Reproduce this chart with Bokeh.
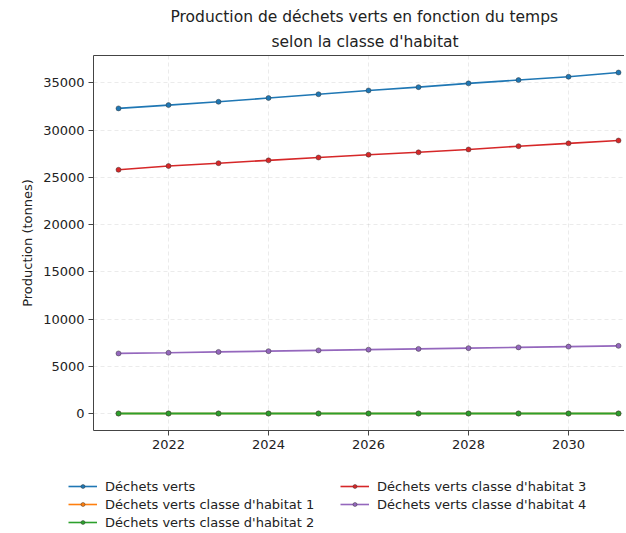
from bokeh.plotting import figure
from bokeh.layouts import column, row
from bokeh.models import (Legend, LegendItem, FixedTicker, LinearAxis, Title,
                          Range1d, NumeralTickFormatter)
from bokeh.embed import file_html
from bokeh.resources import INLINE

years = [2021, 2022, 2023, 2024, 2025, 2026, 2027, 2028, 2029, 2030, 2031]
dechets_verts = [32300, 32650, 33000, 33400, 33800, 34200, 34550, 34950, 35300, 35650, 36100]
classe_1 = [0, 0, 0, 0, 0, 0, 0, 0, 0, 0, 0]
classe_2 = [0, 0, 0, 0, 0, 0, 0, 0, 0, 0, 0]
classe_3 = [25800, 26200, 26500, 26800, 27100, 27400, 27650, 27950, 28300, 28600, 28900]
classe_4 = [6360, 6430, 6520, 6600, 6680, 6760, 6840, 6920, 7000, 7080, 7160]

series_names = ["Déchets verts", "Déchets verts classe d'habitat 1",
                "Déchets verts classe d'habitat 2", "Déchets verts classe d'habitat 3",
                "Déchets verts classe d'habitat 4"]
series_values = [dechets_verts, classe_1, classe_2, classe_3, classe_4]
series_colors = ["#1f77b4", "#ff7f0e", "#2ca02c", "#d62728", "#9467bd"]
series_widths = [1.6, 1.4, 1.9, 1.6, 1.6]

x_ticks = [2022, 2024, 2026, 2028, 2030]
y_ticks = [0, 5000, 10000, 15000, 20000, 25000, 30000, 35000]

title_line1 = "Production de déchets verts en fonction du temps"
title_line2 = "selon la classe d'habitat"
y_label = "Production (tonnes)"

FONT = "DejaVu Sans"
W = 624

p = figure(width=W, height=455, output_backend="svg", toolbar_location=None,
           x_range=Range1d(2020.5, 2031.12), y_range=Range1d(-1800, 37900),
           min_border_left=93, min_border_right=0, min_border_top=55,
           min_border_bottom=25)
p.outline_line_color = None
p.background_fill_color = "white"
p.border_fill_color = "white"

xaxis = p.below[0]
yaxis = p.left[0]

# Top spine
top_axis = LinearAxis(ticker=FixedTicker(ticks=[]), major_tick_out=0, major_tick_in=0,
                      minor_tick_out=0, minor_tick_in=0, major_label_standoff=0,
                      major_label_text_font_size="0px",
                      axis_line_color="#444444", axis_line_width=1)
p.add_layout(top_axis, "above")

# Titles (added inner first)
p.add_layout(Title(text=title_line2, align="left", text_font=FONT,
                   text_font_size="15.5px", text_font_style="normal",
                   text_color="#222222", standoff=9, offset=178), "above")
p.add_layout(Title(text=title_line1, align="left", text_font=FONT,
                   text_font_size="15.5px", text_font_style="normal",
                   text_color="#222222", standoff=1, offset=77), "above")

for ax in [xaxis, yaxis]:
    ax.axis_line_color = "#444444"
    ax.major_tick_line_color = "#444444"
    ax.major_tick_out = 5
    ax.major_tick_in = 0
    ax.minor_tick_line_color = None
    ax.major_label_text_font = FONT
    ax.major_label_text_font_size = "13px"
    ax.major_label_text_color = "#222222"
    ax.major_label_standoff = 4

xaxis.ticker = FixedTicker(ticks=x_ticks)
yaxis.ticker = FixedTicker(ticks=y_ticks)
yaxis.formatter = NumeralTickFormatter(format="0")
yaxis.axis_label = y_label
yaxis.axis_label_text_font = FONT
yaxis.axis_label_text_font_size = "13px"
yaxis.axis_label_text_font_style = "normal"
yaxis.axis_label_text_color = "#222222"
yaxis.axis_label_standoff = 5

p.grid.grid_line_color = "#b0b0b0"
p.grid.grid_line_alpha = 0.25
p.grid.grid_line_dash = "4 3"
p.xgrid.ticker = FixedTicker(ticks=x_ticks)
p.ygrid.ticker = FixedTicker(ticks=y_ticks)

for vals, col, lw in zip(series_values, series_colors, series_widths):
    p.line(years, vals, line_color=col, line_width=lw)
    p.scatter(years, vals, size=5, fill_color=col, line_color="#333333",
              line_alpha=0.6, line_width=0.8)

# Legend panel (separate figure below the chart); its ranges keep the
# series out of view so only the legend entries show.
p2 = figure(width=W, height=76, output_backend="svg", toolbar_location=None,
            x_range=Range1d(0, 1), y_range=Range1d(-1e6, -9e5),
            x_axis_location=None, y_axis_location=None,
            min_border_left=0, min_border_right=0, min_border_top=0,
            min_border_bottom=0)
p2.grid.visible = False
p2.outline_line_color = None
p2.background_fill_color = "white"
p2.border_fill_color = "white"

items = []
for name, vals, col in zip(series_names, series_values, series_colors):
    lr = p2.line(years, vals, line_color=col, line_width=1.6)
    sr = p2.scatter(years, vals, size=4, fill_color=col, line_color="#333333",
                    line_alpha=0.6, line_width=0.8)
    items.append(LegendItem(label=name, renderers=[lr, sr]))

legend = Legend(items=items, location=(68, 0), orientation="vertical", ncols=2,
                label_text_font=FONT, label_text_font_size="13px",
                label_text_color="#222222", glyph_width=29, glyph_height=10,
                label_height=18, label_width=235, label_standoff=8, spacing=0,
                padding=0, margin=0, border_line_color=None,
                background_fill_alpha=0)
p2.add_layout(legend, "center")

layout = column(p, row(p2, spacing=0), spacing=0)
open("out.html", "w").write(file_html(layout, INLINE))
